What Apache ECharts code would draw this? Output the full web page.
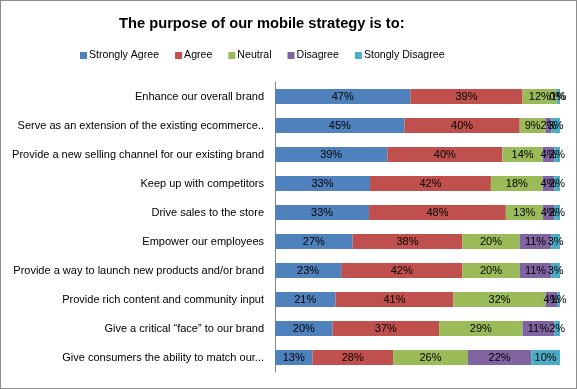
<!DOCTYPE html>
<html><head><meta charset="utf-8">
<script src="https://cdn.jsdelivr.net/npm/echarts@6/dist/echarts.min.js"></script>
<style>html,body{margin:0;padding:0;background:#fff}#c{width:577px;height:389px;box-sizing:border-box;border:1px solid #8c8c8c}</style>
</head><body><div id="c"></div>
<script>
const categories = [
  "Enhance our overall brand",
  "Serve as an extension of the existing ecommerce..",
  "Provide a new selling channel for our existing brand",
  "Keep up with competitors",
  "Drive sales to the store",
  "Empower our employees",
  "Provide a way to launch new products and/or brand",
  "Provide rich content and community input",
  "Give a critical \u201cface\u201d to our brand",
  "Give consumers the ability to match our..."
];
const seriesNames = ["Strongly Agree","Agree","Neutral","Disagree","Stongly Disagree"];
const stronglyAgree   = [47,45,39,33,33,27,23,21,20,13];
const agree           = [39,40,40,42,48,38,42,41,37,28];
const neutral         = [12, 9,14,18,13,20,20,32,29,26];
const disagree        = [ 0, 2, 4, 4, 4,11,11, 4,11,22];
const stronglyDisagree= [ 1, 3, 2, 2, 2, 3, 3, 1, 2,10];
const colors = ["#4F81BD","#C0504D","#9BBB59","#8064A2","#4BACC6"];

const all = [stronglyAgree, agree, neutral, disagree, stronglyDisagree];
const totals = categories.map((_, i) => all.reduce((s, a) => s + a[i], 0));
const font = "Liberation Sans";

const chart = echarts.init(document.getElementById('c'));
chart.setOption({
  animation: false,
  title: {
    text: "The purpose of our mobile strategy is to:",
    left: 118, top: 15, padding: 0,
    textStyle: {fontFamily: font, fontSize: 14.7, fontWeight: 'bold', color: '#000'}
  },
  legend: {
    top: 49, left: 79, padding: 0,
    itemWidth: 7, itemHeight: 7, itemGap: 16,
    icon: 'rect',
    textStyle: {fontFamily: font, fontSize: 10.6, color: '#000', padding: [0,0,0,-3]},
    data: seriesNames
  },
  grid: {left: 274, right: 16, top: 81, bottom: 16, containLabel: false},
  xAxis: {
    type: 'value', min: 0, max: 100,
    axisLabel: {show: false}, axisLine: {show: false}, axisTick: {show: false}, splitLine: {show: false}
  },
  yAxis: {
    type: 'category', inverse: true, data: categories,
    axisLine: {show: true, lineStyle: {color: '#868686'}},
    axisTick: {show: false},
    axisLabel: {fontFamily: font, fontSize: 11, color: '#000', margin: 11}
  },
  series: seriesNames.map((name, k) => ({
    name, type: 'bar', stack: 'total', barWidth: 15,
    itemStyle: {color: colors[k]},
    label: {
      show: true, position: 'inside', color: '#000',
      fontFamily: font, fontSize: 11,
      formatter: p => all[k][p.dataIndex] + '%'
    },
    data: all[k].map((v, i) => v / totals[i] * 100)
  }))
});
</script></body></html>
